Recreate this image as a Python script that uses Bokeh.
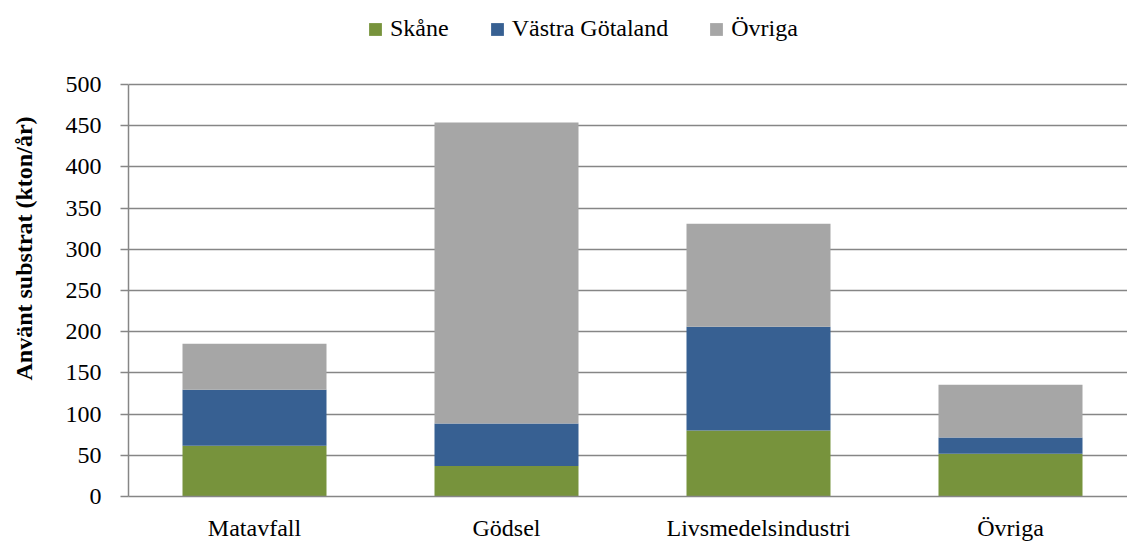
from bokeh.plotting import figure
from bokeh.models import ColumnDataSource, Legend, LegendItem, FixedTicker, Range1d
from bokeh.embed import file_html
from bokeh.resources import INLINE

categories = ["Matavfall", "Gödsel", "Livsmedelsindustri", "Övriga"]
series_names = ["Skåne", "Västra Götaland", "Övriga"]
skane = [61.5, 37, 80, 52]
vastra = [68, 51.5, 126, 19.5]
ovriga = [56, 365.5, 125, 64]
colors = ["#77933C", "#376092", "#A6A6A6"]
y_ticks = [0, 50, 100, 150, 200, 250, 300, 350, 400, 450, 500]
y_max = 500

FONT = "Liberation Serif"
xpos = [i + 0.5 for i in range(len(categories))]

source = ColumnDataSource(dict(x=xpos, s=skane, v=vastra, o=ovriga))

W, H = 1127, 543
LEFT, BOTTOM = 128, 47
CAT_PX = 252
PLOT_PX = 412  # pixel height of 0..500 in the reference

p = figure(width=W, height=H, output_backend="svg", toolbar_location=None,
           x_range=Range1d(0, (W - LEFT) / CAT_PX),
           y_range=Range1d(0, y_max * (H - BOTTOM) / PLOT_PX),
           min_border_left=LEFT, min_border_right=0, min_border_top=0,
           min_border_bottom=BOTTOM)
p.outline_line_color = None
p.background_fill_color = "white"

renderers = p.vbar_stack(["s", "v", "o"], x="x", width=144 / CAT_PX, source=source,
                         color=colors, line_color=None)

# axes
p.xaxis.ticker = FixedTicker(ticks=xpos)
p.xaxis.major_label_overrides = {x: c for x, c in zip(xpos, categories)}
p.xaxis.major_tick_line_color = None
p.xaxis.minor_tick_line_color = None
p.xaxis.axis_line_color = "#868686"
p.xaxis.axis_line_width = 1.5
p.xaxis.major_label_text_font = FONT
p.xaxis.major_label_text_font_size = "24px"
p.xaxis.major_label_text_color = "#000000"
p.xaxis.major_label_standoff = 12

p.yaxis.ticker = FixedTicker(ticks=y_ticks)
p.yaxis.bounds = (0, y_max)
p.yaxis.minor_tick_line_color = None
p.yaxis.major_tick_out = 8
p.yaxis.major_tick_in = 0
p.yaxis.major_tick_line_color = "#868686"
p.yaxis.major_tick_line_width = 1.5
p.yaxis.axis_line_color = "#868686"
p.yaxis.axis_line_width = 1.5
p.yaxis.major_label_text_font = FONT
p.yaxis.major_label_text_font_size = "24px"
p.yaxis.major_label_text_color = "#000000"
p.yaxis.major_label_standoff = 19
p.yaxis.axis_label = "Använt substrat (kton/år)"
p.yaxis.axis_label_text_font = FONT
p.yaxis.axis_label_text_font_size = "24px"
p.yaxis.axis_label_text_font_style = "bold"
p.yaxis.axis_label_text_color = "#000000"
p.yaxis.axis_label_standoff = 26

p.xgrid.grid_line_color = None
p.ygrid.grid_line_color = "#868686"
p.ygrid.grid_line_width = 1.5

items = [LegendItem(label=n, renderers=[r]) for n, r in zip(series_names, renderers)]
legend = Legend(items=items, orientation="horizontal", location=(239, 454),
                glyph_width=16, glyph_height=16, label_height=16,
                label_standoff=7, spacing=40,
                padding=0, margin=0, border_line_color=None,
                background_fill_alpha=0, label_text_font=FONT,
                label_text_font_size="24px", label_text_color="#000000")
p.add_layout(legend, "center")

open("out.html", "w").write(file_html(p, INLINE))
